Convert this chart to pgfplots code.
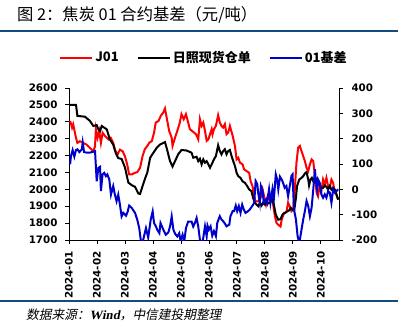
\documentclass[border=0pt]{standalone}
\usepackage{pgfplots}
\pgfplotsset{compat=1.18}
\usepackage{fontspec}
\newfontfamily\tickfont{DejaVu Sans}
\newfontfamily\cjk{Noto Sans CJK SC}
\newfontfamily\cjkit{Noto Sans CJK SC}[FakeSlant=0.2]
\newfontfamily\serifbi{Liberation Serif}[FakeSlant=0.2]
\definecolor{rulecol}{RGB}{20,75,125}
\definecolor{sred}{RGB}{255,0,0}
\definecolor{sblue}{RGB}{0,0,204}
\newcommand{\ticklab}{\tickfont\bfseries\fontsize{10.3}{12}\selectfont}
\begin{document}
\begin{tikzpicture}
\path[use as bounding box] (0pt,0pt) rectangle (398pt,332pt);
\draw[line width=2pt, rulecol] (0pt,301pt) -- (398pt,301pt);
\draw[line width=2pt, rulecol] (0pt,31pt) -- (398pt,31pt);
\node[anchor=west, inner sep=0pt, font=\cjk\fontsize{16.3}{19}\selectfont] at (17pt,317pt) {图 2：焦炭 01 合约基差（元/吨）};
\node[anchor=west, inner sep=0pt, font=\fontsize{12.7}{15}\selectfont] at (26pt,17pt) {\cjkit 数据来源：\serifbi\bfseries Wind\mdseries\cjkit ，中信建投期整理};

\begin{axis}[at={(69pt,92pt)}, anchor=south west, scale only axis,
  width=270pt, height=152pt,
  xmin=0, xmax=9.65, ymin=1700, ymax=2600,
  axis x line*=bottom, axis y line*=left,
  ytick={1700,1800,...,2600},
  xtick={0,1,...,9},
  xticklabels={2024-01,2024-02,2024-03,2024-04,2024-05,2024-06,2024-07,2024-08,2024-09,2024-10},
  tick align=outside, major tick length=4pt,
  axis line style={line width=0.8pt, black},
  tick style={line width=0.8pt, black},
  x tick label style={rotate=90, anchor=east, font=\ticklab},
  y tick label style={font=\ticklab},
  xticklabel shift=4pt, yticklabel shift=4pt,
  /pgf/number format/1000 sep={},
  /pgf/number format/assume math mode=true,
  legend columns=3,
  legend style={at={(axis description cs:0.5,1.2)}, anchor=center, draw=none, fill=none,
    font=\cjk\bfseries\fontsize{13}{15}\selectfont,
    /tikz/every even column/.append style={column sep=16pt}},
  legend image code/.code={\draw[#1] (0pt,0pt) -- (32pt,0pt);},
]
\addplot[sred, line width=2pt] coordinates {
(0.04,2405)(0.11,2365)(0.15,2385)(0.25,2305)(0.3,2275)(0.39,2285)(0.51,2275)(0.63,2265)(0.75,2245)(0.87,2225)(0.93,2255)(0.96,2355)(1.02,2305)(1.08,2345)(1.14,2275)(1.2,2335)(1.29,2315)(1.41,2295)(1.49,2305)(1.58,2275)(1.64,2235)(1.73,2205)(1.82,2235)(1.92,2225)(2.0,2195)(2.08,2147)(2.15,2088)(2.24,2088)(2.36,2098)(2.44,2102)(2.54,2128)(2.63,2197)(2.71,2237)(2.8,2257)(2.87,2276)(2.96,2286)(3.04,2336)(3.1,2395)(3.2,2405)(3.28,2435)(3.37,2455)(3.43,2479)(3.49,2425)(3.58,2346)(3.67,2306)(3.7,2257)(3.79,2306)(3.87,2346)(3.96,2395)(4.02,2445)(4.1,2415)(4.18,2445)(4.26,2395)(4.32,2356)(4.44,2340)(4.54,2326)(4.62,2296)(4.68,2415)(4.74,2376)(4.8,2396)(4.86,2346)(4.92,2287)(4.98,2296)(5.04,2326)(5.1,2356)(5.13,2326)(5.18,2356)(5.25,2376)(5.33,2439)(5.39,2396)(5.45,2376)(5.51,2366)(5.57,2386)(5.63,2326)(5.69,2336)(5.75,2376)(5.85,2316)(5.93,2257)(5.99,2177)(6.05,2187)(6.11,2158)(6.2,2148)(6.26,2118)(6.35,2108)(6.44,2098)(6.49,2048)(6.56,2019)(6.61,1959)(6.67,1929)(6.76,1929)(6.85,1949)(6.92,1999)(6.96,1969)(7.04,1910)(7.1,1959)(7.18,1929)(7.27,1939)(7.36,1840)(7.42,1800)(7.48,1790)(7.56,1780)(7.6,1820)(7.68,1860)(7.77,1864)(7.83,1920)(7.89,1900)(7.95,1870)(8.01,1880)(8.07,1999)(8.13,2158)(8.19,2247)(8.25,2257)(8.31,2227)(8.37,2197)(8.43,2167)(8.49,2128)(8.55,2108)(8.61,2148)(8.67,2177)(8.73,2167)(8.79,2078)(8.85,1979)(8.9,1959)(8.96,2019)(9.02,1989)(9.08,2058)(9.14,2028)(9.2,2068)(9.26,2019)(9.32,2009)(9.38,2058)(9.44,2038)(9.5,1979)(9.56,1969)(9.62,1939)
};
\addlegendentry{J01}
\addplot[black, line width=2pt] coordinates {
(0.04,2500)(0.25,2500)(0.3,2435)(0.57,2430)(0.75,2405)(0.87,2375)(0.99,2380)(1.05,2355)(1.11,2345)(1.17,2375)(1.26,2365)(1.35,2355)(1.46,2295)(1.58,2265)(1.67,2215)(1.76,2185)(1.88,2180)(2.0,2130)(2.12,2040)(2.24,2025)(2.36,2015)(2.48,1975)(2.54,1973)(2.63,2020)(2.71,2060)(2.8,2100)(2.9,2187)(3.01,2215)(3.13,2245)(3.25,2265)(3.43,2280)(3.49,2245)(3.61,2167)(3.7,2135)(3.79,2167)(3.9,2207)(4.02,2233)(4.2,2230)(4.38,2217)(4.44,2187)(4.56,2193)(4.62,2167)(4.68,2181)(4.74,2148)(4.8,2177)(4.86,2158)(4.92,2167)(4.98,2148)(5.04,2128)(5.1,2148)(5.18,2177)(5.25,2197)(5.33,2261)(5.39,2227)(5.45,2207)(5.51,2227)(5.57,2237)(5.63,2207)(5.69,2227)(5.75,2233)(5.81,2197)(5.87,2167)(5.93,2138)(5.99,2098)(6.05,2078)(6.13,2068)(6.2,2048)(6.29,2038)(6.37,2019)(6.44,1999)(6.52,1989)(6.58,1949)(6.64,1920)(6.7,1910)(6.76,1900)(6.82,1920)(6.88,1904)(6.94,1924)(7.0,1910)(7.06,1929)(7.12,1916)(7.18,1920)(7.27,1939)(7.32,1910)(7.39,1850)(7.48,1820)(7.56,1824)(7.63,1850)(7.71,1860)(7.8,1870)(7.87,1876)(7.93,1890)(7.99,1880)(8.05,1876)(8.11,1949)(8.15,2019)(8.23,2058)(8.31,2068)(8.37,2078)(8.43,2094)(8.49,2102)(8.55,2058)(8.58,2023)(8.63,2058)(8.68,2068)(8.73,2048)(8.79,2068)(8.85,2058)(8.9,2038)(8.96,2019)(9.02,2009)(9.08,2009)(9.14,2023)(9.2,2015)(9.26,1999)(9.32,2019)(9.38,1999)(9.44,2009)(9.5,1999)(9.56,1969)(9.62,1939)
};
\addlegendentry{日照现货仓单}
\addlegendimage{sblue, line width=2pt}
\addlegendentry{01基差}
\end{axis}

\begin{axis}[at={(69pt,92pt)}, anchor=south west, scale only axis,
  width=270pt, height=152pt,
  xmin=0, xmax=9.65, ymin=-200, ymax=400,
  axis x line=none, axis y line*=right,
  ytick={-200,-100,...,400},
  tick align=outside, major tick length=4pt,
  axis line style={line width=0.8pt, black},
  tick style={line width=0.8pt, black},
  y tick label style={font=\ticklab},
  yticklabel shift=5pt,
  /pgf/number format/1000 sep={},
  /pgf/number format/assume math mode=true,
]
\addplot[sblue, line width=2pt] coordinates {
(0.04,99)(0.07,131)(0.13,155)(0.19,129)(0.25,155)(0.3,158)(0.37,147)(0.46,158)(0.49,185)(0.54,147)(0.63,145)(0.75,145)(0.93,151)(0.99,32)(1.05,85)(1.11,89)(1.14,-7)(1.2,59)(1.26,65)(1.32,52)(1.37,59)(1.44,39)(1.5,-21)(1.58,13)(1.64,-21)(1.7,-47)(1.76,-21)(1.82,-60)(1.88,-107)(1.94,-93)(2.04,-104)(2.1,-87)(2.15,-64)(2.24,-73)(2.36,-93)(2.44,-120)(2.51,-153)(2.57,-205)(2.65,-200)(2.75,-153)(2.83,-190)(2.92,-120)(2.99,-87)(3.04,-133)(3.11,-147)(3.15,-159)(3.23,-173)(3.27,-133)(3.37,-159)(3.46,-179)(3.55,-170)(3.61,-147)(3.67,-107)(3.73,-159)(3.79,-175)(3.87,-186)(3.94,-173)(3.99,-205)(4.06,-179)(4.12,-205)(4.18,-153)(4.26,-127)(4.38,-127)(4.44,-147)(4.5,-133)(4.56,-113)(4.62,-147)(4.68,-200)(4.77,-212)(4.86,-146)(4.92,-185)(4.95,-143)(5.0,-159)(5.06,-146)(5.12,-183)(5.18,-165)(5.25,-185)(5.3,-132)(5.39,-106)(5.45,-119)(5.51,-126)(5.57,-135)(5.63,-146)(5.73,-139)(5.77,-106)(5.85,-86)(5.9,-86)(5.96,-64)(6.01,-86)(6.07,-66)(6.13,-93)(6.19,-60)(6.25,-80)(6.31,-93)(6.4,-86)(6.46,-80)(6.56,-64)(6.62,-53)(6.67,33)(6.73,20)(6.76,-13)(6.82,-53)(6.86,13)(6.92,-7)(6.96,-53)(7.04,-40)(7.08,-53)(7.15,0)(7.2,-53)(7.27,0)(7.32,-40)(7.39,59)(7.44,39)(7.48,0)(7.54,50)(7.6,39)(7.65,26)(7.71,6)(7.77,13)(7.83,-27)(7.89,13)(7.95,53)(7.99,59)(8.04,-80)(8.11,-119)(8.17,-185)(8.23,-212)(8.31,-159)(8.37,-119)(8.43,-86)(8.49,-46)(8.55,-66)(8.61,-106)(8.67,-73)(8.73,0)(8.79,79)(8.82,33)(8.87,0)(8.9,39)(8.96,26)(9.02,-20)(9.08,-33)(9.14,-20)(9.2,-33)(9.26,-7)(9.32,-13)(9.38,-53)(9.44,0)(9.5,-13)(9.56,-7)(9.62,0)
};
\end{axis}
\end{tikzpicture}
\end{document}
